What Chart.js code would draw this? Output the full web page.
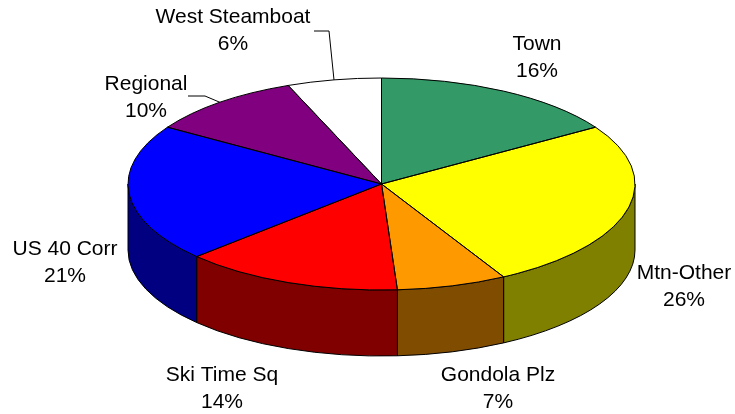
<!DOCTYPE html>
<html>
<head>
<meta charset="utf-8">
<script src="https://cdn.jsdelivr.net/npm/chart.js"></script>
<style>
  body { margin: 0; background: #fff; }
  canvas { display: block; }
</style>
</head>
<body>
<canvas id="grafico" width="735" height="414"></canvas>
<script>
// Datos
const categorias = ['Town', 'Mtn-Other', 'Gondola Plz', 'Ski Time Sq', 'US 40 Corr', 'Regional', 'West Steamboat'];
const porcentajes = [16, 26, 7, 14, 21, 10, 6];

// Colores (tapa y lateral)
const coloresTapa = ['#339966', '#FFFF00', '#FF9900', '#FF0000', '#0000FF', '#800080', '#FFFFFF'];
const coloresLado = ['#1A4D33', '#808000', '#804C00', '#800000', '#000080', '#400040', '#808080'];

// Posición de las etiquetas (centro x, línea base de la primera línea)
const posEtiquetas = [[537, 50], [684, 279], [498, 381], [222, 381], [65, 255], [146, 90], [233, 23]];
// Codo de las líneas guía (solo para algunas etiquetas)
const guias = [null, null, null, null, null, [[188, 96], [205, 96]], [[314, 31], [329, 31]]];

const ESTIRAR = 253.5 / 106; // relación ancho/alto de la elipse
const PROFUNDIDAD = 66;

function geometria(chart) {
  const arc = chart.getDatasetMeta(0).data[0];
  const ry = arc.outerRadius;
  return { cx: arc.x, cy: arc.y, rx: ry * ESTIRAR, ry };
}

const pie3d = {
  id: 'pie3d',
  beforeDatasetsDraw(chart) {
    const ctx = chart.ctx;
    const arcs = chart.getDatasetMeta(0).data;
    const { cx, cy, rx, ry } = geometria(chart);

    // Paredes laterales (solo la mitad frontal)
    ctx.save();
    ctx.lineWidth = 1;
    ctx.strokeStyle = '#000';
    arcs.forEach((arc, i) => {
      const a1 = Math.max(arc.startAngle, 0);
      const a2 = Math.min(arc.endAngle, Math.PI);
      if (a1 >= a2) return;
      ctx.beginPath();
      ctx.ellipse(cx, cy, rx, ry, 0, a1, a2);
      ctx.ellipse(cx, cy + PROFUNDIDAD, rx, ry, 0, a2, a1, true);
      ctx.closePath();
      ctx.fillStyle = coloresLado[i];
      ctx.fill();
      ctx.stroke();
    });
    ctx.restore();

    // Estirar en x para que el círculo sea elipse
    ctx.save();
    ctx.translate(cx, cy);
    ctx.scale(rx / ry, 1);
    ctx.translate(-cx, -cy);
  },
  afterDatasetsDraw(chart) {
    const ctx = chart.ctx;
    ctx.restore();
    const arcs = chart.getDatasetMeta(0).data;
    const { cx, cy, rx, ry } = geometria(chart);

    // Bordes de la tapa
    ctx.save();
    ctx.lineWidth = 1;
    ctx.strokeStyle = '#000';
    arcs.forEach(arc => {
      ctx.beginPath();
      ctx.moveTo(cx, cy);
      ctx.ellipse(cx, cy, rx, ry, 0, arc.startAngle, arc.endAngle);
      ctx.closePath();
      ctx.stroke();
    });

    // Líneas guía
    arcs.forEach((arc, i) => {
      if (!guias[i]) return;
      const medio = (arc.startAngle + arc.endAngle) / 2;
      ctx.beginPath();
      ctx.moveTo(guias[i][0][0], guias[i][0][1]);
      ctx.lineTo(guias[i][1][0], guias[i][1][1]);
      ctx.lineTo(cx + rx * Math.cos(medio), cy + ry * Math.sin(medio));
      ctx.stroke();
    });

    // Etiquetas
    ctx.fillStyle = '#000';
    ctx.font = '21px "Liberation Sans", Arial, sans-serif';
    ctx.textAlign = 'center';
    ctx.textBaseline = 'alphabetic';
    categorias.forEach((cat, i) => {
      const [x, y] = posEtiquetas[i];
      ctx.fillText(cat, x, y);
      ctx.fillText(porcentajes[i] + '%', x, y + 27);
    });
    ctx.restore();
  }
};

const chart = new Chart(document.getElementById('grafico'), {
  type: 'pie',
  data: {
    labels: categorias,
    datasets: [{
      data: porcentajes,
      backgroundColor: coloresTapa,
      borderWidth: 0,
      hoverOffset: 0,
      clip: false
    }]
  },
  options: {
    responsive: false,
    animation: false,
    events: [],
    layout: { padding: { left: 275.5, right: 247.5, top: 78, bottom: 124 } },
    plugins: {
      legend: { display: false },
      tooltip: { enabled: false }
    }
  },
  plugins: [pie3d]
});
</script>
</body>
</html>
